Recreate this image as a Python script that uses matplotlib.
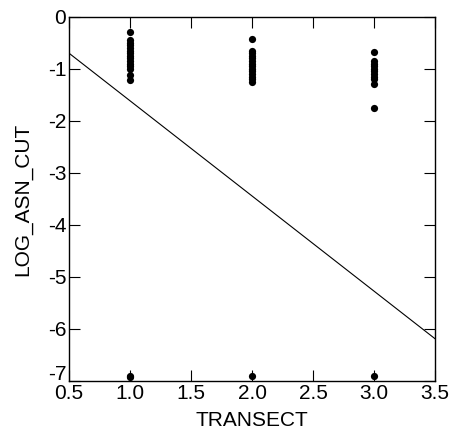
import numpy as np
import matplotlib.pyplot as plt
import matplotlib.transforms as mtransforms

plt.rcParams['font.family'] = ['Liberation Sans', 'DejaVu Sans']
plt.rcParams['xtick.direction'] = 'in'
plt.rcParams['ytick.direction'] = 'in'

# observations per transect
transect_1 = [-0.30, -0.45, -0.50, -0.55, -0.60, -0.65, -0.70, -0.75, -0.80,
              -0.85, -0.90, -0.95, -1.00, -1.12, -1.22, -6.90, -6.92]
transect_2 = [-0.42, -0.65, -0.70, -0.75, -0.80, -0.85, -0.90, -0.95, -1.00,
              -1.05, -1.10, -1.15, -1.20, -1.25, -6.90]
transect_3 = [-0.68, -0.85, -0.90, -0.95, -1.00, -1.05, -1.10, -1.15, -1.20,
              -1.30, -1.75, -6.90]

# least squares line
intercept = 0.215
slope = -1.83

xs = np.concatenate([np.full(len(transect_1), 1.0),
                     np.full(len(transect_2), 2.0),
                     np.full(len(transect_3), 3.0)])
ys = np.concatenate([transect_1, transect_2, transect_3])

fig = plt.figure(figsize=(4.51, 4.41), dpi=100)
ax = fig.add_axes([0.153, 0.136, 0.812, 0.826])

ax.plot(xs, ys, 'o', color='black', markersize=5.2, markeredgewidth=0)

xl = np.array([0.5, 3.5])
ax.plot(xl, intercept + slope * xl, color='black', linewidth=0.8)

ax.set_xlim(0.5, 3.5)
ax.set_ylim(-7, 0)
ax.set_xticks(np.arange(0.5, 3.51, 0.5))
ax.set_xticklabels(['0.5', '1.0', '1.5', '2.0', '2.5', '3.0', '3.5'])
ax.set_yticks(np.arange(-7, 0.1, 1))
ax.set_yticklabels(['-7', '-6', '-5', '-4', '-3', '-2', '-1', '0'])
ax.tick_params(top=True, right=True, length=8, width=0.8, labelsize=15, pad=2)
for s in ax.spines.values():
    s.set_linewidth(1.0)

# lift the bottom y label so it clears the first x label
lbl = ax.get_yticklabels()[0]
lbl.set_transform(lbl.get_transform() +
                  mtransforms.ScaledTranslation(0, 9 / 100, fig.dpi_scale_trans))

ax.set_xlabel('TRANSECT', fontsize=15, labelpad=6)
ax.set_ylabel('LOG_ASN_CUT', fontsize=15, labelpad=11)

fig.savefig('out.png', dpi=100)
